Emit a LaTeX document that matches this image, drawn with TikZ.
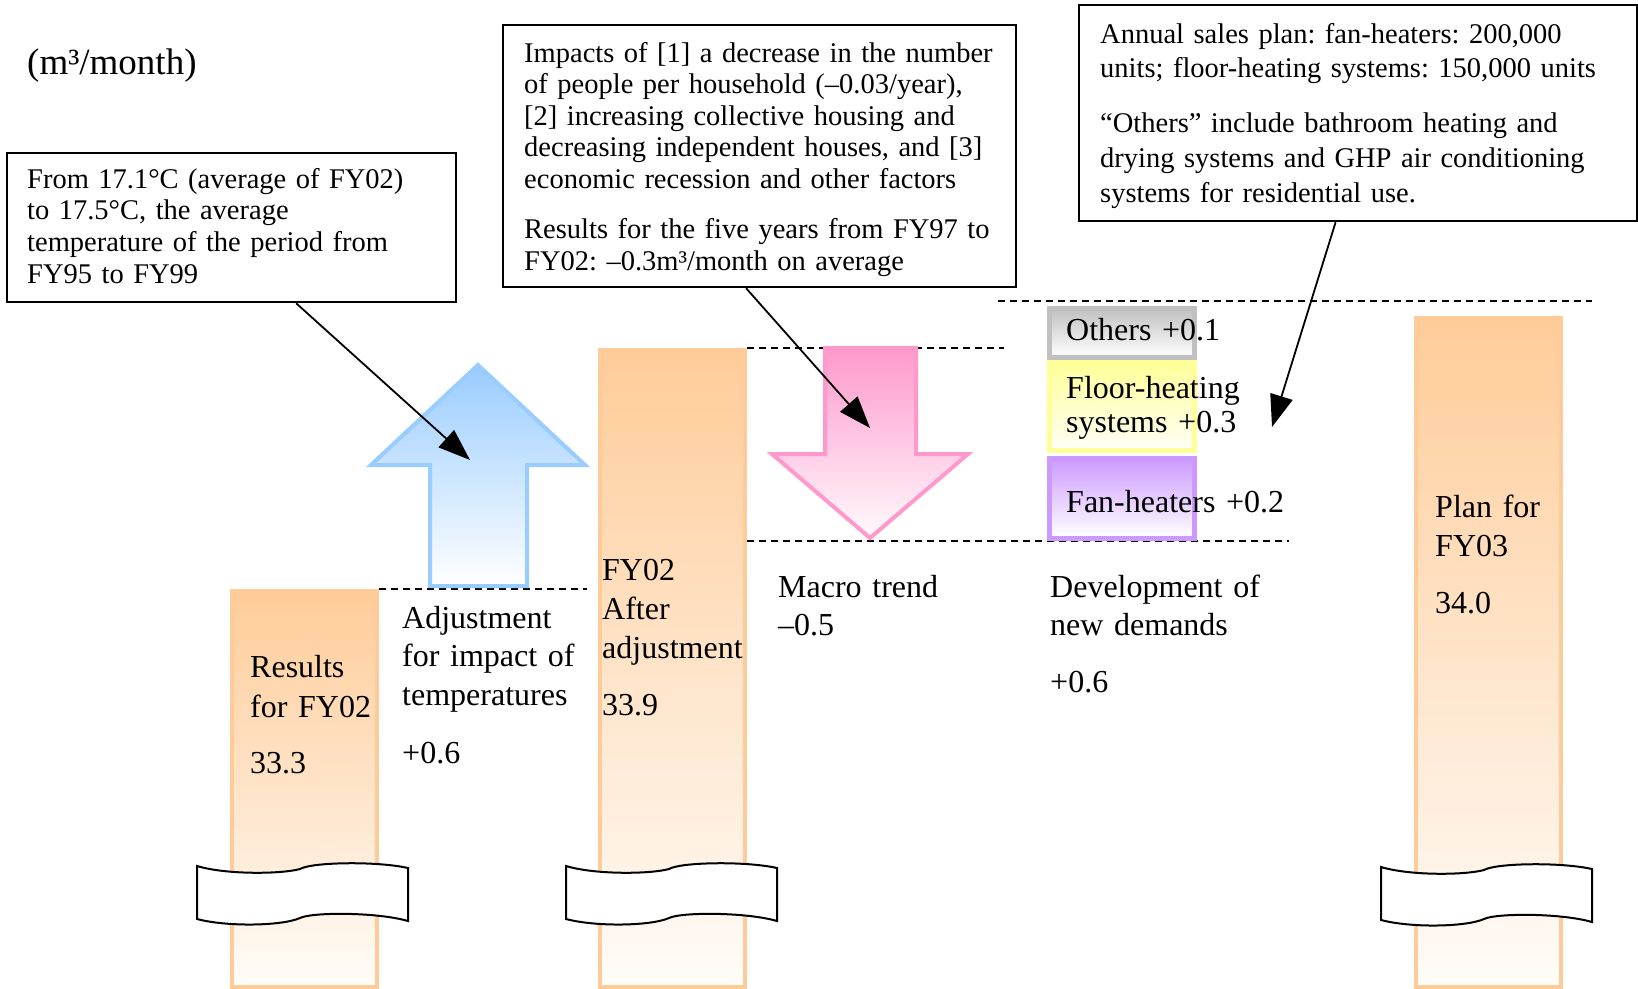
\documentclass[tikz,border=0pt]{standalone}
\usepackage{fontspec}
\setmainfont{Liberation Serif}
\usetikzlibrary{arrows.meta}
\definecolor{orng}{HTML}{FFCC99}
\definecolor{blu}{HTML}{99CCFF}
\definecolor{pnk}{HTML}{FF99CC}
\definecolor{gry}{HTML}{C0C0C0}
\definecolor{yel}{HTML}{FFFF99}
\definecolor{prp}{HTML}{CC99FF}
\tikzset{
  band/.pic={\draw[line width=2pt, fill=white] (0,0) .. controls (30,9) and (85,8) .. (103,3) .. controls (115,-4) and (180,-5) .. (211,2) -- (211,55) .. controls (180,46) and (115,46) .. (103,52) .. controls (85,60) and (30,61) .. (0,53) -- cycle;}
}
\begin{document}
\frenchspacing
\begin{tikzpicture}[x=1pt,y=-1pt,
  callout/.style={draw=black, line width=2.2pt, fill=white, inner sep=0pt, anchor=north west},
  boxtext/.style={inner sep=0pt, anchor=base west, align=left, text width=560pt, font=\frenchspacing\fontsize{28.5}{31.5}\selectfont},
  lbl/.style={inner sep=0pt, anchor=base west, align=left, text width=260pt, font=\fontsize{32}{39}\selectfont},
  bar/.style={draw=orng, line width=4pt, top color=orng, bottom color=orng!6!white, inner sep=0pt, anchor=north west, minimum width=145pt},
  stack/.style={line width=5pt, inner sep=0pt, anchor=north west, minimum width=145pt},
  dashline/.style={line width=1.8pt, dash pattern=on 7pt off 5pt},
  conn/.style={line width=1.8pt, -{Triangle[length=32pt,width=23pt]}},
  bigarrow/.style={line width=4pt, line join=miter}
]
\useasboundingbox (0,0) rectangle (1638,988);

% bars
\node[bar, minimum height=396pt] (bar1) at (230,589) {};
\node[bar, minimum height=637pt] (bar2) at (598,348) {};
\node[bar, minimum height=669pt] (bar3) at (1414,316) {};

% breaks
\pic (k1) at (197,866) {band};
\pic (k2) at (566,866) {band};
\pic (k3) at (1381,867) {band};

% dashed level lines
\draw[dashline] (bar1.north east) -- ++(208,0) coordinate (d1);
\draw[dashline] (bar2.north east) -- ++(257,0) coordinate (d2);
\draw[dashline] (bar2.north east |- 0,541) -- ++(542,0) coordinate (d3);
\draw[dashline] (998,301) -- (1592,301);

% blue up arrow
\draw[bigarrow, draw=blu, top color=blu, bottom color=white]
  (478,365) -- (585,465) -- (527,465) -- (527,586) -- (430,586) -- (430,465) -- (371,465) -- cycle;

% pink down arrow
\draw[bigarrow, draw=pnk, top color=pnk, bottom color=pnk!5!white]
  (825,348) -- (916,348) -- (916,454) -- (968,454) -- (870,538) -- (772,454) -- (825,454) -- cycle;

% stacked new-demand boxes
\node[stack, draw=gry, top color=gry, bottom color=white, minimum height=49pt] (oth) at (1046.5,305.5) {};
\node[stack, draw=yel, top color=yel, bottom color=yel!8!white, minimum height=88pt] (flo) at (1046.5,359.5) {};
\node[stack, draw=prp, top color=prp, bottom color=white, minimum height=80pt] (fan) at (1046.5,455.5) {};

\node[lbl] (lo) at (1066,340) {Others +0.1};
\node[lbl, font=\fontsize{32}{34}\selectfont] (lf) at (1066,398) {Floor-heating\\systems +0.3};
\node[lbl] (lh) at (1066,512) {Fan-heaters +0.2};

% unit
\node[lbl, font=\fontsize{37}{40}\selectfont] (unit) at (27,74) {(m³/month)};

% callout boxes
\node[callout, minimum width=449pt, minimum height=149pt] (b1) at (6,152) {};
\node[callout, minimum width=513pt, minimum height=262pt] (b2) at (502,24) {};
\node[callout, minimum width=558pt, minimum height=216pt] (b3) at (1078,4) {};

\node[boxtext, font=\frenchspacing\fontsize{28.5}{31.7}\selectfont] (t1) at (27,188) {From 17.1°C (average of FY02)\\to 17.5°C, the average\\temperature of the period from\\FY95 to FY99};
\node[boxtext] (t2a) at (524,62) {Impacts of [1] a decrease in the number\\of people per household (–0.03/year),\\{}[2] increasing collective housing and\\decreasing independent houses, and [3]\\economic recession and other factors};
\node[boxtext, font=\frenchspacing\fontsize{28.5}{32}\selectfont] (t2b) at (524,238) {Results for the five years from FY97 to\\FY02: –0.3m³/month on average};
\node[boxtext, font=\frenchspacing\fontsize{28.5}{34.5}\selectfont] (t3a) at (1100,43) {Annual sales plan: fan-heaters: 200,000\\units; floor-heating systems: 150,000 units};
\node[boxtext, font=\frenchspacing\fontsize{28.5}{35}\selectfont] (t3b) at (1100,132) {“Others” include bathroom heating and\\drying systems and GHP air conditioning\\systems for residential use.};

% connectors
\coordinate (e1) at (470,460);
\coordinate (e2) at (870,428);
\coordinate (e3) at (1272,427);
\draw[conn] ([xshift=64.5pt]b1.south) -- (e1);
\draw[conn] ([xshift=-13.5pt]b2.south) -- (e2);
\draw[conn] ([xshift=-22.5pt]b3.south) -- (e3);

% labels
\node[lbl, font=\fontsize{32}{40}\selectfont] (l1) at (250,677) {Results\\for FY02};
\node[lbl] (v1) at (250,773) {33.3};
\node[lbl, font=\fontsize{32}{38.5}\selectfont] (l2) at (402,628) {Adjustment\\for impact of\\temperatures};
\node[lbl] (v2) at (402,763) {+0.6};
\node[lbl] (l3) at (602,580) {FY02\\After\\adjustment};
\node[lbl] (v3) at (602,715) {33.9};
\node[lbl, font=\fontsize{32}{38}\selectfont] (l4) at (778,597) {Macro trend\\–0.5};
\node[lbl, font=\fontsize{32}{38}\selectfont] (l5) at (1050,597) {Development of\\new demands};
\node[lbl] (v5) at (1050,692) {+0.6};
\node[lbl] (l6) at (1435,517) {Plan for\\FY03};
\node[lbl] (v6) at (1435,613) {34.0};
\end{tikzpicture}
\end{document}
